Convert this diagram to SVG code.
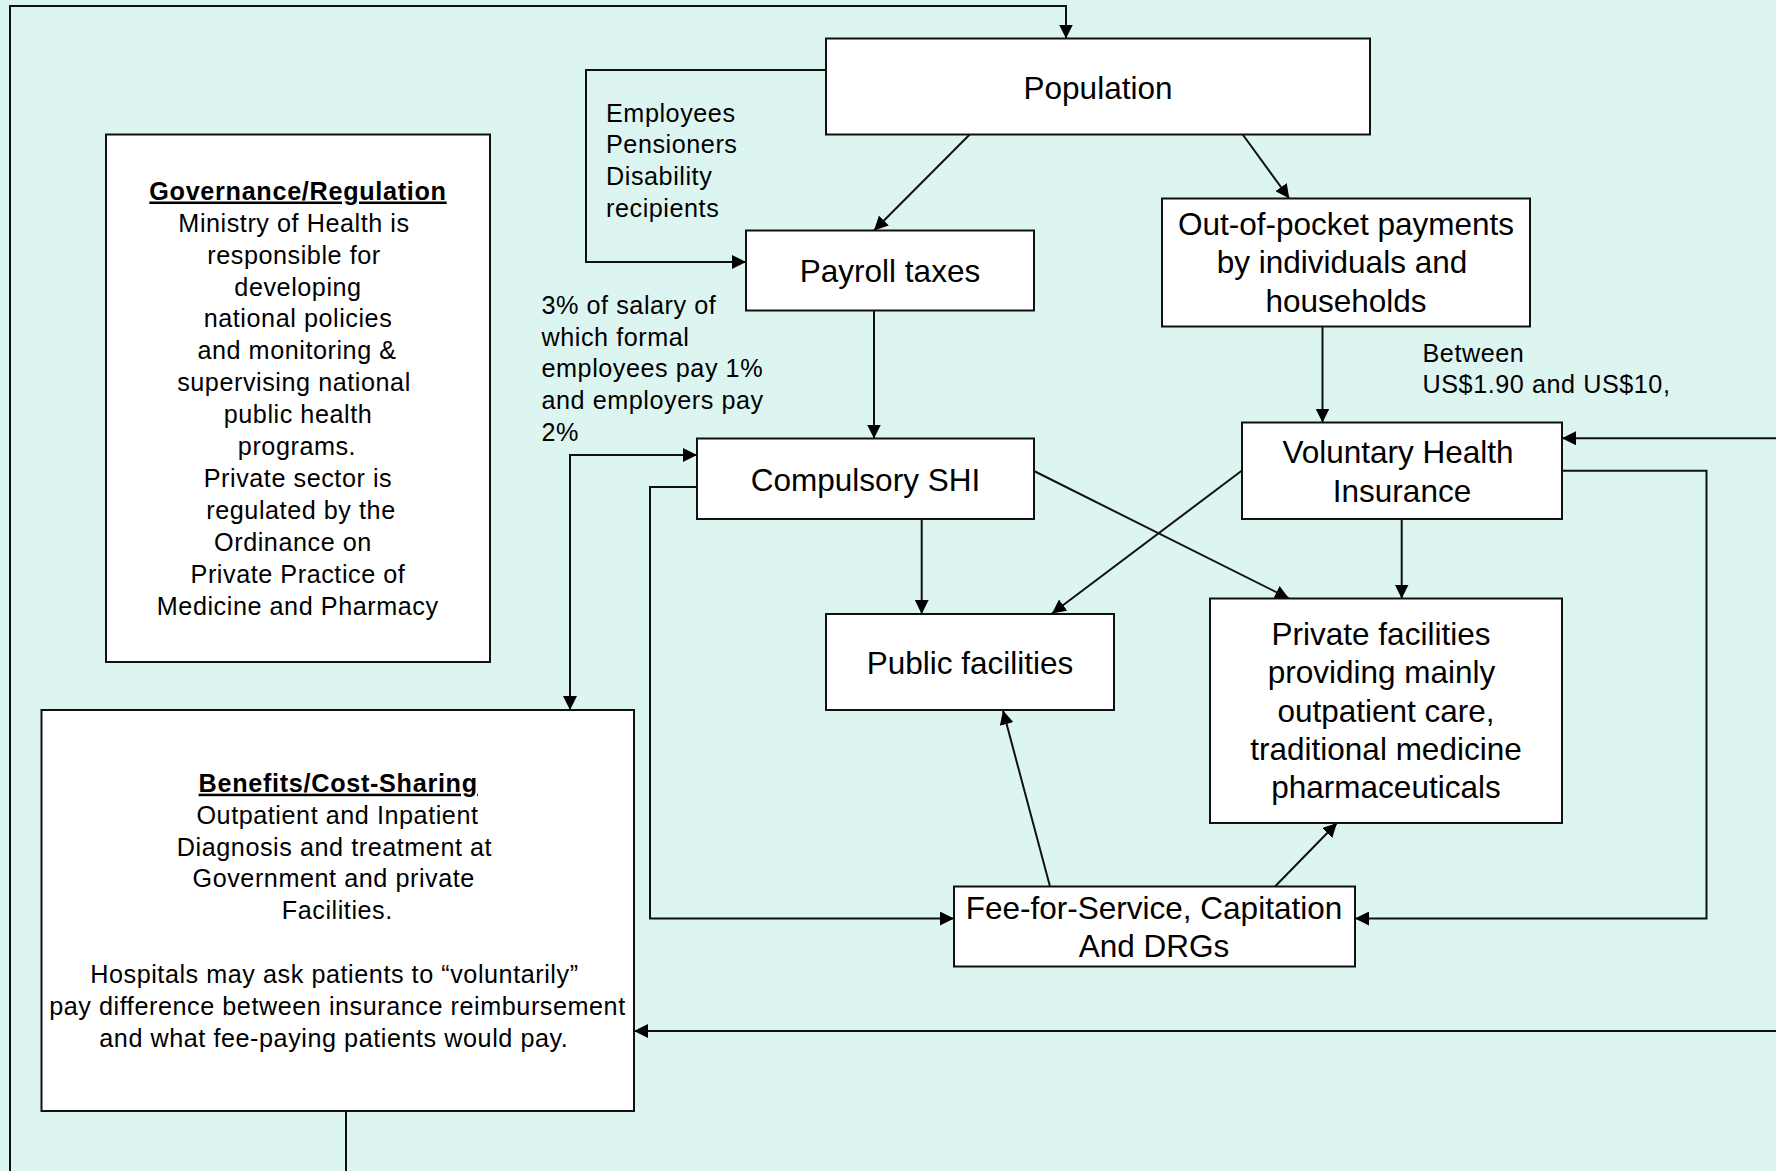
<svg xmlns="http://www.w3.org/2000/svg" width="1776" height="1171" viewBox="0 0 1776 1171">
<style>
text{font-family:"Liberation Sans",Arial,sans-serif;fill:#000}
.big{font-size:31.5px;text-anchor:middle}
.sm{font-size:25.2px;letter-spacing:0.55px}
.smc{font-size:25.2px;letter-spacing:0.55px;text-anchor:middle}
.ttl{font-size:25.2px;letter-spacing:0.7px;font-weight:bold;text-decoration:underline;text-anchor:middle}
.box{fill:#fff;stroke:#111;stroke-width:2}
.conn path{fill:none;stroke:#111;stroke-width:2}
.a{marker-end:url(#arr)}
</style>
<defs>
<marker id="arr" viewBox="0 0 14 14" refX="14" refY="7" markerWidth="14" markerHeight="14" markerUnits="userSpaceOnUse" orient="auto-start-reverse">
<path d="M0,0 L14,7 L0,14 z" fill="#000"/>
</marker>
</defs>
<rect x="0" y="0" width="1776" height="1171" fill="#DDF5F1"/>

<g id="connectors" class="conn">
<path class="a" d="M10,1171 L10,6 L1066,6 L1066,38.5"/>
<path class="a" d="M826,70 L586,70 L586,262 L746,262"/>
<path class="a" d="M969.7,134.5 L874,230.5"/>
<path class="a" d="M1242.7,134.5 L1289.3,198.5"/>
<path class="a" d="M874,310.5 L874,438.5"/>
<path class="a" d="M1322.5,326.5 L1322.5,422.5"/>
<path class="a" style="marker-start:url(#arr)" d="M697,455 L570,455 L570,710"/>
<path class="a" d="M697,487 L650,487 L650,918.5 L954,918.5"/>
<path class="a" d="M921.7,519 L921.7,614"/>
<path class="a" d="M1034,471 L1289,598.5"/>
<path class="a" d="M1242,470.5 L1052,613.5"/>
<path class="a" d="M1401.7,519 L1401.7,598.5"/>
<path class="a" d="M1050,886.5 L1003,710.5"/>
<path class="a" d="M1275,886.5 L1337,823"/>
<path class="a" d="M1562,470.7 L1706.5,470.7 L1706.5,918.5 L1355,918.5"/>
<path class="a" d="M1776,438.3 L1562,438.3"/>
<path class="a" d="M1776,1031 L634,1031"/>
<path d="M346,1111 L346,1171"/>
</g>

<g id="label-population-groups">
<text class="sm" x="606" y="121.7">Employees</text>
<text class="sm" x="606" y="153.3">Pensioners</text>
<text class="sm" x="606" y="185">Disability</text>
<text class="sm" x="606" y="216.7">recipients</text>
</g>
<g id="label-payroll-rate">
<text class="sm" x="541.5" y="314">3% of salary of</text>
<text class="sm" x="541.5" y="345.7">which formal</text>
<text class="sm" x="541.5" y="377.3">employees pay 1%</text>
<text class="sm" x="541.5" y="409">and employers pay</text>
<text class="sm" x="541.5" y="440.6">2%</text>
</g>
<g id="label-income">
<text class="sm" x="1422.5" y="361.7">Between</text>
<text class="sm" x="1422.5" y="393.3">US$1.90 and US$10,</text>
</g>

<g id="node-population">
<rect class="box" x="826" y="38.5" width="544" height="96"/>
<text class="big" x="1098" y="98.5">Population</text>
</g>
<g id="node-payroll">
<rect class="box" x="746" y="230.5" width="288" height="80"/>
<text class="big" x="890" y="282">Payroll taxes</text>
</g>
<g id="node-oop">
<rect class="box" x="1162" y="198.5" width="368" height="128"/>
<text class="big" x="1346" y="235">Out-of-pocket payments</text>
<text class="big" x="1342" y="273.3">by individuals and</text>
<text class="big" x="1346" y="311.6">households</text>
</g>
<g id="node-compulsory">
<rect class="box" x="697" y="438.5" width="337" height="80.5"/>
<text class="big" x="865.5" y="491">Compulsory SHI</text>
</g>
<g id="node-voluntary">
<rect class="box" x="1242" y="422.5" width="320" height="96.5"/>
<text class="big" x="1398" y="463.3">Voluntary Health</text>
<text class="big" x="1402" y="501.7">Insurance</text>
</g>
<g id="node-public">
<rect class="box" x="826" y="614" width="288" height="96"/>
<text class="big" x="970" y="674">Public facilities</text>
</g>
<g id="node-private">
<rect class="box" x="1210" y="598.5" width="352" height="224.5"/>
<text class="big" x="1381" y="645">Private facilities</text>
<text class="big" x="1381.5" y="683.3">providing mainly</text>
<text class="big" x="1386" y="721.6">outpatient care,</text>
<text class="big" x="1386" y="759.9">traditional medicine</text>
<text class="big" x="1386" y="798.2">pharmaceuticals</text>
</g>
<g id="node-fee">
<rect class="box" x="954" y="886.5" width="401" height="80"/>
<text class="big" x="1154" y="919.3">Fee-for-Service, Capitation</text>
<text class="big" x="1154" y="956.7">And DRGs</text>
</g>
<g id="node-governance">
<rect class="box" x="106" y="134.5" width="384" height="527.5"/>
<text class="ttl" x="298" y="199.5">Governance/Regulation</text>
<text class="smc" x="294" y="231.7">Ministry of Health is</text>
<text class="smc" x="294" y="263.6">responsible for</text>
<text class="smc" x="298" y="295.5">developing</text>
<text class="smc" x="298" y="327.4">national policies</text>
<text class="smc" x="297" y="359.3">and monitoring &amp;</text>
<text class="smc" x="294" y="391.2">supervising national</text>
<text class="smc" x="298" y="423.1">public health</text>
<text class="smc" x="297" y="455">programs.</text>
<text class="smc" x="298" y="486.9">Private sector is</text>
<text class="smc" x="301" y="518.8">regulated by the</text>
<text class="smc" x="293" y="550.7">Ordinance on</text>
<text class="smc" x="298" y="582.6">Private Practice of</text>
<text class="smc" x="297.7" y="614.5">Medicine and Pharmacy</text>
</g>
<g id="node-benefits">
<rect class="box" x="41.5" y="710" width="592.5" height="401"/>
<text class="ttl" x="338.2" y="791.7">Benefits/Cost-Sharing</text>
<text class="smc" x="337.5" y="823.6">Outpatient and Inpatient</text>
<text class="smc" x="334.5" y="855.5">Diagnosis and treatment at</text>
<text class="smc" x="333.7" y="887.4">Government and private</text>
<text class="smc" x="337.3" y="919.3">Facilities.</text>
<text class="smc" x="334.4" y="983.1">Hospitals may ask patients to “voluntarily”</text>
<text class="smc" x="337.5" y="1015">pay difference between insurance reimbursement</text>
<text class="smc" x="333.8" y="1046.9">and what fee-paying patients would pay.</text>
</g>
</svg>
